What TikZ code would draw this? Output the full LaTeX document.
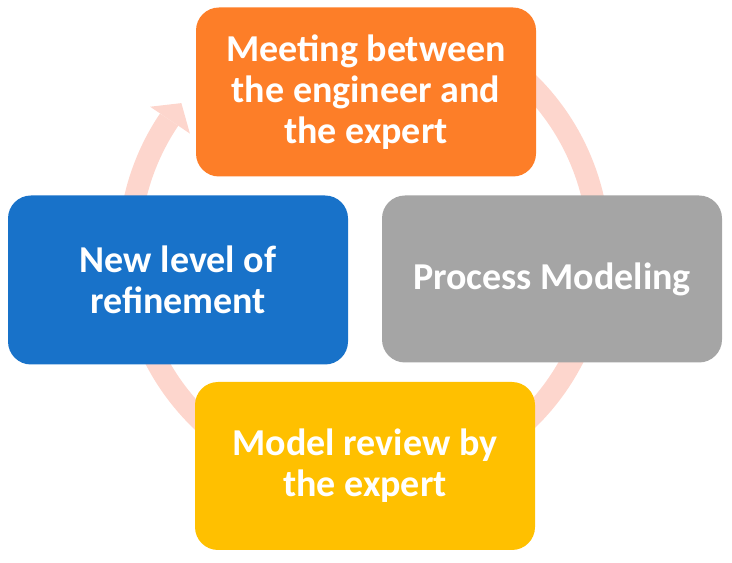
\documentclass[tikz,border=0pt]{standalone}
\usepackage{fontspec}
\setmainfont{Carlito}
\usetikzlibrary{calc}
\definecolor{ringcol}{HTML}{FDD6CD}
\definecolor{orangebox}{HTML}{FD7E28}
\definecolor{bluebox}{HTML}{1872C9}
\definecolor{greybox}{HTML}{A5A5A5}
\definecolor{goldbox}{HTML}{FFC000}
\tikzset{
  cyclebox/.style={rounded corners=23pt, minimum width=340pt, minimum height=169pt,
    inner sep=0pt, align=center, text=white,
    font=\fontsize{38}{41}\selectfont\bfseries},
  ringline/.style={draw=ringcol, line width=22pt},
}
\begin{document}
\begin{tikzpicture}[x=1pt,y=1pt]
\useasboundingbox (0,0) rectangle (732,563);
\coordinate (c) at (364,312);
% ring behind the boxes
\draw[ringline] (c) ++(62:235) arc[start angle=62, end angle=-214, radius=235];
\fill[ringcol] ($(c)+(146:258)$) -- ($(c)+(141:235)$) -- ($(c)+(146:210)$) -- cycle;
% boxes
\node[cyclebox, fill=orangebox] (meet) at (366,471) {Meeting between\\the engineer and\\the expert};
\node[cyclebox, fill=bluebox] (refine) at (178,283) {New level of\\refinement};
\node[cyclebox, fill=greybox, minimum height=167pt] (proc) at (552,284) {Process Modeling};
\node[cyclebox, fill=goldbox, minimum height=168pt] (review) at (365,97) {Model review by\\the expert};
\end{tikzpicture}
\end{document}
